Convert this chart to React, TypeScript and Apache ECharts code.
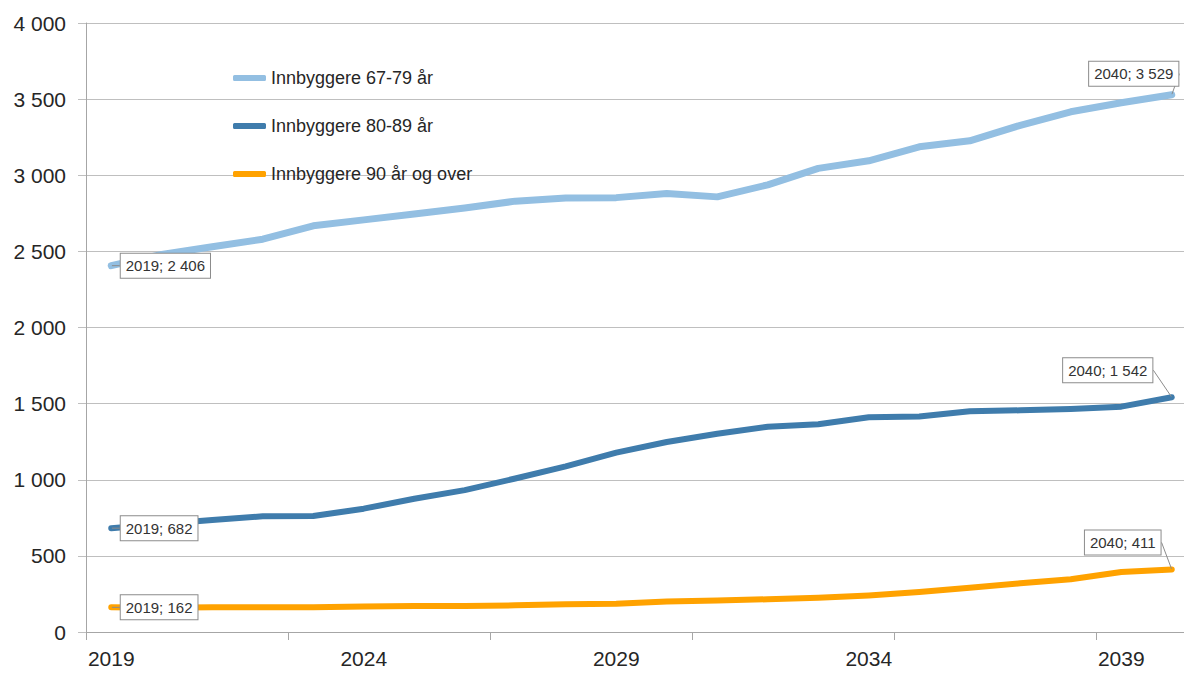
import React, { useEffect, useRef } from "react";
import * as echarts from "echarts";

const years = [
  "2019", "2020", "2021", "2022", "2023", "2024", "2025", "2026", "2027", "2028", "2029",
  "2030", "2031", "2032", "2033", "2034", "2035", "2036", "2037", "2038", "2039", "2040",
];
const age6779 = [2406, 2480, 2530, 2580, 2668, 2707, 2746, 2785, 2830, 2851, 2853, 2880, 2858, 2937, 3045, 3095, 3187, 3226, 3328, 3417, 3476, 3529];
const age8089 = [682, 710, 735, 760, 762, 810, 875, 932, 1008, 1088, 1178, 1248, 1302, 1348, 1365, 1410, 1416, 1450, 1456, 1465, 1480, 1542];
const age90 = [162, 160, 163, 162, 162, 168, 170, 170, 175, 182, 185, 200, 207, 215, 225, 240, 262, 290, 320, 347, 394, 411];
const seriesNames = ["Innbyggere 67-79 år", "Innbyggere 80-89 år", "Innbyggere 90 år og over"];
const seriesColors = ["#93bfe2", "#3f7cac", "#ffa200"];

const FONT = "'Liberation Sans', Arial, sans-serif";

function fmt(v: number): string {
  return String(v).replace(/\B(?=(\d{3})+(?!\d))/g, " ");
}

const labelBox = {
  show: true,
  fontFamily: FONT,
  fontSize: 15,
  color: "#333",
  backgroundColor: "#fff",
  borderColor: "#8c8c8c",
  borderWidth: 1,
  padding: [5, 5, 4, 5],
};

function buildData(values: number[]) {
  const last = values.length - 1;
  return values.map((v, i) => {
    if (i === 0) {
      return {
        value: v,
        label: {
          ...labelBox,
          position: "right",
          distance: 9,
          formatter: () => `${years[i]}; ${fmt(v)}`,
        },
      };
    }
    if (i === last) {
      return {
        value: v,
        label: {
          ...labelBox,
          position: "inside",
          formatter: () => `${years[i]}; ${fmt(v)}`,
        },
      };
    }
    return { value: v };
  });
}

const lastOffsets = [
  { dx: -38, dy: -21 },
  { dx: -64, dy: -27 },
  { dx: -49, dy: -27 },
];
const lineWidths = [7, 6, 6];

export default function App() {
  const ref = useRef<HTMLDivElement>(null);
  useEffect(() => {
    if (!ref.current) return;
    const chart = echarts.init(ref.current, undefined, { renderer: "svg" });
    const allValues = [age6779, age8089, age90];
    chart.setOption({
      animation: false,
      backgroundColor: "#fff",
      grid: { left: 86, right: 13, top: 23, bottom: 41 },
      legend: {
        data: seriesNames.map((n) => ({ name: n, icon: "roundRect" })),
        orient: "vertical",
        left: 233,
        top: 69,
        padding: 0,
        itemWidth: 33,
        itemHeight: 6,
        itemGap: 30,
        textStyle: { fontFamily: FONT, fontSize: 18, color: "#262626" },
      },
      xAxis: {
        type: "category",
        data: years,
        boundaryGap: true,
        axisLine: { lineStyle: { color: "#a6a6a6", width: 1 } },
        axisTick: { show: true, interval: 3, length: 8, lineStyle: { color: "#a6a6a6" } },
        axisLabel: { interval: 4, fontFamily: FONT, fontSize: 21, color: "#262626", margin: 16 },
        splitLine: { show: false },
      },
      yAxis: {
        type: "value",
        min: 0,
        max: 4000,
        interval: 500,
        axisLine: { show: true, lineStyle: { color: "#a6a6a6", width: 1 } },
        axisTick: { show: true, length: 8, lineStyle: { color: "#bfbfbf" } },
        splitLine: { show: true, lineStyle: { color: "#bfbfbf", width: 1 } },
        axisLabel: {
          fontFamily: FONT,
          fontSize: 21,
          color: "#262626",
          margin: 20,
          formatter: (v: number) => fmt(v),
        },
      },
      series: allValues.map((vals, s) => ({
        name: seriesNames[s],
        type: "line",
        data: buildData(vals),
        symbol: "circle",
        symbolSize: 1,
        showSymbol: true,
        itemStyle: { color: seriesColors[s] },
        lineStyle: { color: seriesColors[s], width: lineWidths[s], cap: "round", join: "round" },
        labelLine: { show: true, lineStyle: { color: "#8c8c8c", width: 1 } },
        labelLayout: (params: any) =>
          params.dataIndex === vals.length - 1 ? lastOffsets[s] : {},
        emphasis: { disabled: true },
        z: 3 - s,
      })),
    });
    return () => chart.dispose();
  }, []);
  return (
    <div
      style={{
        position: "fixed",
        left: 0,
        top: 0,
        width: 1184,
        height: 673,
        overflow: "hidden",
        background: "#fff",
      }}
    >
      <div ref={ref} style={{ width: 1210, height: 673 }} />
    </div>
  );
}
